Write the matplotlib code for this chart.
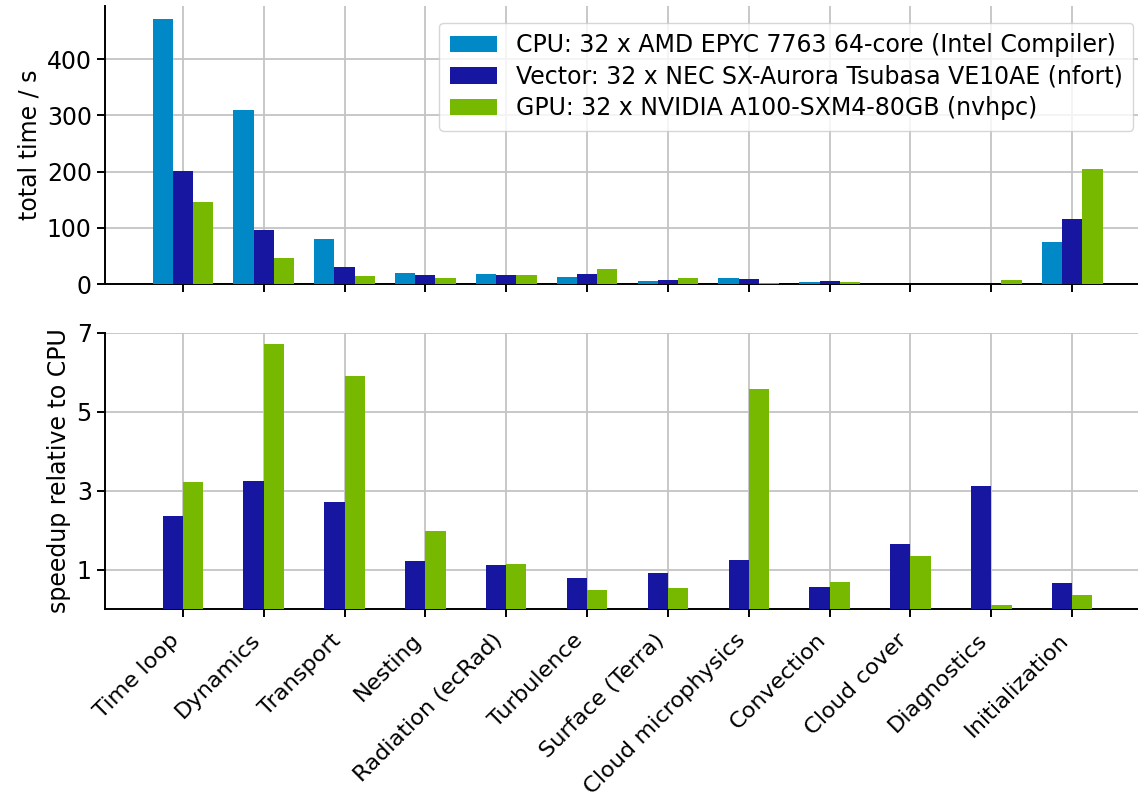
import matplotlib
matplotlib.use("Agg")
import matplotlib.pyplot as plt
import numpy as np

categories = ['Time loop', 'Dynamics', 'Transport', 'Nesting', 'Radiation (ecRad)',
              'Turbulence', 'Surface (Terra)', 'Cloud microphysics', 'Convection',
              'Cloud cover', 'Diagnostics', 'Initialization']
cpu_time = [471, 309, 80, 20, 18, 13, 6, 11, 3.0, 0.5, 0.65, 75]
vector_time = [201, 96, 29.5, 16.5, 16.5, 17, 6.5, 9, 5.5, 0.3, 0.21, 115]
gpu_time = [146, 46, 13.5, 10.5, 16, 27, 11.5, 2, 4.4, 0.37, 6.5, 204]
vector_speedup = [2.35, 3.25, 2.72, 1.22, 1.11, 0.78, 0.91, 1.24, 0.55, 1.66, 3.11, 0.66]
gpu_speedup = [3.23, 6.71, 5.91, 1.97, 1.13, 0.48, 0.52, 5.57, 0.68, 1.34, 0.10, 0.36]
top_ticks = [0, 100, 200, 300, 400]
bottom_ticks = [1, 3, 5, 7]

labels = ['CPU: 32 x AMD EPYC 7763 64-core (Intel Compiler)',
          'Vector: 32 x NEC SX-Aurora Tsubasa VE10AE (nfort)',
          'GPU: 32 x NVIDIA A100-SXM4-80GB (nvhpc)']
c_cpu, c_vec, c_gpu = '#0088c7', '#1616a0', '#76b900'

FS = 17
plt.rcParams['font.family'] = ['DejaVu Sans']
plt.rcParams['font.size'] = FS

W, H = 1138, 799
fig = plt.figure(figsize=(W / 100, H / 100), dpi=100)

def ax_rect(left, top, right, bottom):
    return [left / W, 1 - bottom / H, (right - left) / W, (bottom - top) / H]

ax1 = fig.add_axes(ax_rect(105, 6, 1150, 284))
ax2 = fig.add_axes(ax_rect(105, 333, 1150, 609))

x = np.arange(len(categories))
w = 0.25

ax1.bar(x - w, cpu_time, w, color=c_cpu, label=labels[0], zorder=3)
ax1.bar(x, vector_time, w, color=c_vec, label=labels[1], zorder=3)
ax1.bar(x + w, gpu_time, w, color=c_gpu, label=labels[2], zorder=3)

ax2.bar(x - w / 2, vector_speedup, w, color=c_vec, zorder=3)
ax2.bar(x + w / 2, gpu_speedup, w, color=c_gpu, zorder=3)

for ax in (ax1, ax2):
    ax.set_xticks(x)
    ax.set_xlim(-0.9625, 11.9625)
    ax.grid(True, color='#c4c4c4', linewidth=1.3, zorder=0)
    ax.set_axisbelow(True)
    for s in ('top', 'right'):
        ax.spines[s].set_visible(False)
    for s in ('left', 'bottom'):
        ax.spines[s].set_linewidth(1.4)
    ax.tick_params(axis='both', width=1.4, length=6, labelsize=FS)

ax1.set_xticklabels([])
ax1.set_yticks(top_ticks)
ax1.set_ylabel('total time / s', fontsize=FS)

ax2.set_ylim(0, 7)
ax2.set_yticks(bottom_ticks)
ax2.set_ylabel('speedup relative to CPU', fontsize=FS)
ax2.set_xticklabels(categories, rotation=45, ha='right', fontsize=16.2)
ax2.tick_params(axis='x', pad=9)

ax1.legend(loc='upper right', fontsize=FS, borderaxespad=0.7, framealpha=0.8,
           handlelength=2.0, handleheight=0.7, labelspacing=0.32, borderpad=0.45)

fig.savefig('out.png', dpi=100)
